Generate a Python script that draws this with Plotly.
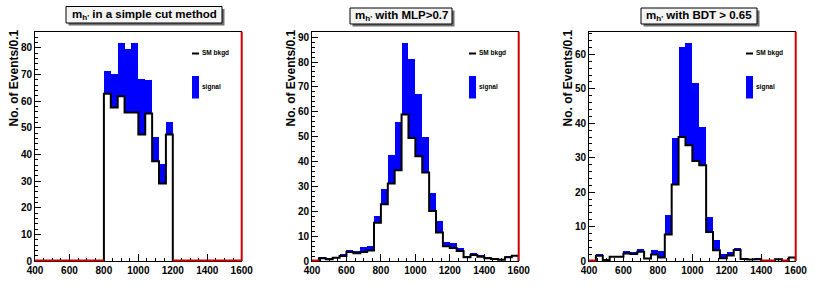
import plotly.graph_objects as go

# ---------------- data ----------------
bin_low = 400
bin_width = 40
n_bins = 30
x_ticks = [400, 600, 800, 1000, 1200, 1400, 1600]

titles = ["m<sub>h'</sub> in a simple cut method",
          "m<sub>h'</sub> with MLP>0.7",
          "m<sub>h'</sub> with BDT > 0.65"]
y_title = "No. of Events/0.1"
legend_labels = ["SM bkgd", "signal"]

# SM background per 40-unit bin (400..1600)
bkg_cut = [0, 0, 0, 0, 0, 0, 0, 0, 0, 0,
           62.8, 57.6, 61.9, 55.8, 55.8, 47.5, 55.4, 37.5, 29.1, 47.5,
           0, 0, 0, 0, 0, 0, 0, 0, 0, 0]
tot_cut = [0, 0, 0, 0, 0, 0, 0, 0, 0, 0,
           71.4, 70.2, 81.9, 79.7, 82.0, 68.2, 68.1, 46.4, 36.6, 52.2,
           0, 0, 0, 0, 0, 0, 0, 0, 0, 0]

bkg_mlp = [0, 1.1, 0.7, 1.3, 2.0, 3.6, 3.1, 3.6, 4.2, 15.4,
           22.8, 31.2, 36.5, 58.9, 49.5, 42.1, 35.6, 20.1, 11.5, 5.9,
           5.2, 4.0, 1.5, 2.4, 1.7, 1.1, 0.8, 0.5, 1.5, 2.1]
tot_mlp = [0, 1.6, 1.2, 1.7, 2.8, 4.4, 3.9, 5.6, 5.9, 17.9,
           28.9, 42.6, 55.9, 87.8, 81.2, 67.2, 49.7, 27.3, 16.0, 7.6,
           7.1, 5.2, 2.0, 3.3, 2.3, 1.5, 1.1, 0.8, 2.0, 2.4]

bkg_bdt = [0, 1.5, 0.3, 1.2, 1.2, 2.2, 2.0, 2.7, 0.7, 1.9,
           1.0, 7.7, 22.2, 36.0, 33.6, 29.0, 27.8, 8.4, 3.1, 0.8,
           1.6, 3.2, 0.6, 0.4, 0.5, 0, 0, 0.5, 0, 1.0]
tot_bdt = [0, 2.1, 0.7, 1.5, 1.4, 3.0, 2.5, 3.5, 0.9, 3.1,
           2.9, 13.4, 35.7, 62.2, 63.4, 51.8, 38.8, 12.9, 6.0, 2.0,
           2.7, 3.7, 1.0, 0.6, 0.9, 0, 0, 0.6, 0, 1.3]

panels = [(bkg_cut, tot_cut), (bkg_mlp, tot_mlp), (bkg_bdt, tot_bdt)]

# ---------------- layout helpers ----------------
W, H = 830, 293
def fx(px):
    return px / W
def fy(py):
    return 1 - py / H

panel_off = [0, 277, 554]
plot_l, plot_r = 35, 241.7
plot_t, plot_b = 31.7, 261
title_boxes = [(66, 222, 6.5, 23), (350, 452, 8, 24), (641, 757, 8, 24)]

BLUE = "#0000ff"
RED = "#cc0000"
FONT = "Liberation Sans"

edges = [bin_low + bin_width * i for i in range(n_bins + 1)]
centers = [e + bin_width / 2 for e in edges[:-1]]

fig = go.Figure()
shapes = []
annotations = []
layout_axes = {}

for i, (bkg, tot) in enumerate(panels):
    xa = "x" if i == 0 else f"x{i+1}"
    ya = "y" if i == 0 else f"y{i+1}"
    sig = [t - b for t, b in zip(tot, bkg)]
    ymax = 1.05 * max(tot)

    # signal stacked on background
    fig.add_trace(go.Bar(x=centers, y=sig, base=bkg, width=bin_width,
                         marker=dict(color=BLUE, line=dict(width=0)),
                         xaxis=xa, yaxis=ya, showlegend=False))
    # background outline (step)
    sx = [edges[0]] + edges + [edges[-1]]
    sy = [0] + list(bkg) + [bkg[-1]] + [0]
    fig.add_trace(go.Scatter(x=sx, y=sy, mode="lines",
                             line=dict(color="black", width=2, shape="hv"),
                             xaxis=xa, yaxis=ya, showlegend=False,
                             hoverinfo="skip"))

    off = panel_off[i]
    layout_axes["xaxis" if i == 0 else f"xaxis{i+1}"] = dict(
        domain=[fx(off + plot_l), fx(off + plot_r)], anchor=ya,
        automargin=False,
        range=[edges[0], edges[-1]], tickvals=x_ticks,
        ticks="inside", ticklen=7, tickwidth=1, tickcolor="black",
        minor=dict(dtick=50, tick0=400, ticks="inside", ticklen=3.5,
                   tickcolor="black", tickwidth=1),
        showline=True, linecolor="black", linewidth=1, mirror=True,
        showgrid=False, zeroline=False,
        tickfont=dict(family=FONT, size=10, color="black", weight="bold"),
    )
    layout_axes["yaxis" if i == 0 else f"yaxis{i+1}"] = dict(
        domain=[fy(plot_b), fy(plot_t)], anchor=xa,
        automargin=False,
        range=[0, ymax], dtick=10, tick0=0,
        ticks="inside", ticklen=6, tickwidth=1, tickcolor="black",
        minor=dict(dtick=2, ticks="inside", ticklen=3, tickcolor="black",
                   tickwidth=1),
        showline=True, linecolor="black", linewidth=1,
        showgrid=False, zeroline=False,
        tickfont=dict(family=FONT, size=10, color="black", weight="bold"),
    )

    # red right frame edge
    shapes.append(dict(type="line", xref="paper", yref="paper",
                       x0=fx(off + plot_r), x1=fx(off + plot_r),
                       y0=fy(plot_b), y1=fy(plot_t),
                       line=dict(color=RED, width=2), layer="above"))
    # red line along zero where the stack is empty
    for k in range(n_bins):
        if tot[k] == 0:
            shapes.append(dict(type="line", xref=xa, yref="paper",
                               x0=edges[k], x1=edges[k + 1],
                               y0=fy(plot_b) + 0.5 / H, y1=fy(plot_b) + 0.5 / H,
                               line=dict(color=RED, width=2), layer="above"))

    # title box with shadow
    bx0, bx1, by0, by1 = title_boxes[i]
    shapes.append(dict(type="rect", xref="paper", yref="paper",
                       x0=fx(bx0 + 2.5), x1=fx(bx1 + 2.5),
                       y0=fy(by1 + 2.5), y1=fy(by0 + 2.5),
                       fillcolor="#6e6e6e", line=dict(width=0), layer="above"))
    shapes.append(dict(type="rect", xref="paper", yref="paper",
                       x0=fx(bx0), x1=fx(bx1), y0=fy(by1), y1=fy(by0),
                       fillcolor="#f4f4f4", line=dict(color="black", width=1),
                       layer="above"))
    annotations.append(dict(text=titles[i], xref="paper", yref="paper",
                            x=fx((bx0 + bx1) / 2), y=fy((by0 + by1) / 2),
                            xanchor="center", yanchor="middle", showarrow=False,
                            font=dict(family=FONT, size=11.5, color="black",
                                      weight="bold")))

    # y axis title
    annotations.append(dict(text=y_title, xref="paper", yref="paper",
                            x=fx(off + 13.5), y=fy(78), textangle=-90,
                            xanchor="center", yanchor="middle", showarrow=False,
                            font=dict(family=FONT, size=12, color="black",
                                      weight="bold")))

    # legend
    shapes.append(dict(type="line", xref="paper", yref="paper",
                       x0=fx(off + 192), x1=fx(off + 199),
                       y0=fy(53.5), y1=fy(53.5),
                       line=dict(color="black", width=2), layer="above"))
    shapes.append(dict(type="rect", xref="paper", yref="paper",
                       x0=fx(off + 192), x1=fx(off + 199),
                       y0=fy(98.5), y1=fy(76),
                       fillcolor=BLUE, line=dict(width=0), layer="above"))
    annotations.append(dict(text=legend_labels[0], xref="paper", yref="paper",
                            x=fx(off + 200), y=fy(53.5), xanchor="left",
                            yanchor="middle", showarrow=False,
                            font=dict(family=FONT, size=6.5, color="black",
                                      weight="bold")))
    annotations.append(dict(text=legend_labels[1], xref="paper", yref="paper",
                            x=fx(off + 200), y=fy(87), xanchor="left",
                            yanchor="middle", showarrow=False,
                            font=dict(family=FONT, size=6.5, color="black",
                                      weight="bold")))

fig.update_layout(width=W, height=H, margin=dict(l=0, r=0, t=0, b=0),
                  paper_bgcolor="white", plot_bgcolor="white",
                  barmode="overlay", bargap=0, showlegend=False,
                  shapes=shapes, annotations=annotations, **layout_axes)

fig.write_html("out.html",
               config={"displayModeBar": False, "staticPlot": True},
               post_script="document.body.style.margin='0';"
                           "document.body.style.overflow='hidden';")
